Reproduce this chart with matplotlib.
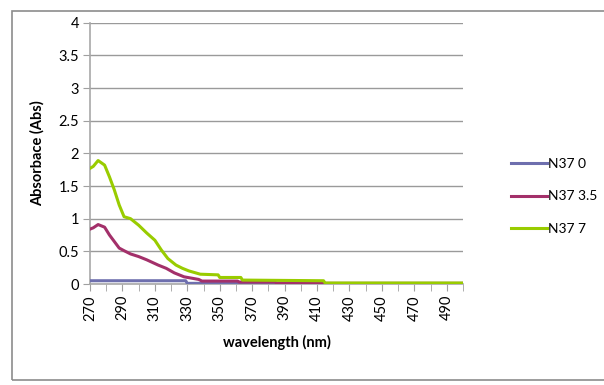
import matplotlib.pyplot as plt
from matplotlib.patches import Rectangle

plt.rcParams['font.family'] = ['Lato', 'DejaVu Sans']

# absorbance spectra, values read at breakpoints (nm, Abs)
wl_0 = [270, 329, 330, 350, 376, 377, 500]
abs_0 = [0.05, 0.05, 0.01, 0.01, 0.01, 0.0, 0.0]

wl_35 = [270, 272, 275, 279, 282, 285, 288, 291, 295, 300, 305, 312, 317, 322,
         328, 337, 339, 361, 362, 384, 385, 412, 413, 500]
abs_35 = [0.84, 0.86, 0.91, 0.87, 0.75, 0.65, 0.55, 0.51, 0.46, 0.42, 0.37, 0.29,
          0.24, 0.17, 0.11, 0.07, 0.045, 0.045, 0.03, 0.03, 0.015, 0.015, 0.01, 0.01]

wl_7 = [270, 272, 275, 279, 282, 285, 288, 291, 295, 300, 305, 310, 314, 318,
        323, 327, 331, 338, 349, 350, 363, 364, 414, 415, 500]
abs_7 = [1.77, 1.80, 1.89, 1.82, 1.64, 1.44, 1.21, 1.03, 1.00, 0.90, 0.78, 0.67,
         0.52, 0.39, 0.29, 0.24, 0.20, 0.15, 0.14, 0.10, 0.10, 0.06, 0.05, 0.015, 0.015]

series = [('N37 0', wl_0, abs_0, '#6E6FAE'),
          ('N37 3.5', wl_35, abs_35, '#A3306A'),
          ('N37 7', wl_7, abs_7, '#99CC00')]

W, H = 604, 385
fig = plt.figure(figsize=(W / 100, H / 100), dpi=100)
fig.patches.append(Rectangle((11.5 / W, 5 / H), 1.0, (380 - 10.7) / H,
                             transform=fig.transFigure, fill=False,
                             edgecolor='#8C8C8C', linewidth=1.2))

ax = fig.add_axes([90 / W, (H - 284) / H, 373 / W, (284 - 22.7) / H])

for name, x, y, c in series:
    ax.plot(x, y, color=c, linewidth=2.2, label=name, zorder=3)

ax.set_xlim(270, 500)
ax.set_ylim(0, 4)
ax.set_yticks([i * 0.5 for i in range(9)])
ax.set_yticklabels(['0', '0.5', '1', '1.5', '2', '2.5', '3', '3.5', '4'], fontsize=10.5)
ax.set_xticks(range(270, 501, 10), minor=True)
ax.set_xticks(range(270, 491, 20))
ax.set_xticklabels([str(v) for v in range(270, 491, 20)], rotation=90, fontsize=10.5)
ax.tick_params(axis='x', which='both', length=5, color='#A0A0A0', pad=3)
ax.tick_params(axis='y', length=5, color='#A0A0A0', pad=3)

ax.grid(axis='y', color='#9A9A9A', linewidth=1)
ax.set_axisbelow(True)
for s in ['top', 'right']:
    ax.spines[s].set_visible(False)
for s in ['left', 'bottom']:
    ax.spines[s].set_color('#A8A8A8')
    ax.spines[s].set_linewidth(1.2)

ax.set_ylabel('Absorbace (Abs)', fontsize=10.5, fontweight='bold', labelpad=10)
ax.set_xlabel('wavelength (nm)', fontsize=10.5, fontweight='bold', labelpad=10)

ax.legend(loc='upper left', bbox_to_anchor=(505 / W, (H - 152) / H), bbox_transform=fig.transFigure,
          frameon=False, fontsize=10, handlelength=2.6, handletextpad=0.1,
          labelspacing=1.5, borderaxespad=0)

fig.savefig('out.png', dpi=100)
